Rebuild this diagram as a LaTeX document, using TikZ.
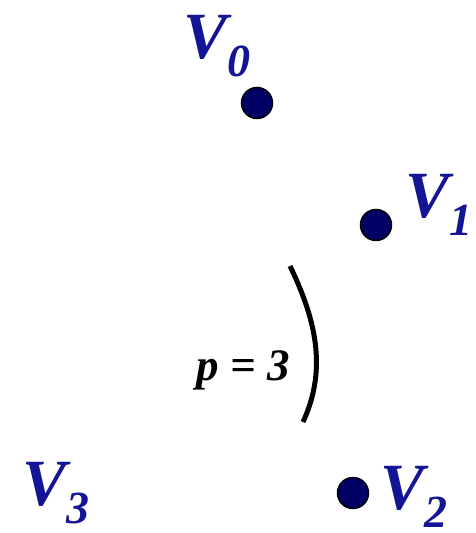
\documentclass[tikz,border=0pt]{standalone}
\usepackage{fontspec}
\setmainfont{Liberation Serif}
\usepackage{xcolor}
\definecolor{vblue}{RGB}{20,20,150}
\definecolor{vdot}{RGB}{0,0,100}
\usetikzlibrary{positioning}

\begin{document}
\begin{tikzpicture}[x=1pt,y=-1pt,
  vert/.style={draw=black,line width=1.5pt,circle,fill=vdot,minimum size=31pt,inner sep=0pt},
  vlab/.style={text=vblue,inner sep=0pt,font=\fontsize{66}{66}\selectfont\bfseries\itshape},
  plab/.style={inner sep=0pt,font=\fontsize{45}{45}\selectfont\bfseries\itshape}
]
  \useasboundingbox (0,0) rectangle (475,533);
  % vertices
  \node[vert] (v0) at (257,103) {};
  \node[vert] (v1) at (376,225) {};
  \node[vert] (v2) at (353,493) {};
  % labels
  \node[vlab] (l0) at (217,46) {V\raisebox{-0.28em}{\fontsize{46}{46}\selectfont 0}};
  \node[vlab] (l1) at (439,205) {V\raisebox{-0.28em}{\fontsize{46}{46}\selectfont 1}};
  \node[vlab] (l2) at (414,497) {V\raisebox{-0.28em}{\fontsize{46}{46}\selectfont 2}};
  \node[vlab] (l3) at (56,493) {V\raisebox{-0.28em}{\fontsize{46}{46}\selectfont 3}};
  % the arc
  \coordinate (a) at (290,266);
  \coordinate (b) at (303,422);
  \draw[line width=5pt] (a) .. controls (315,318) and (328,368) .. (b);
  \node[plab] (p) at (243,370) {p = 3};
\end{tikzpicture}
\end{document}
